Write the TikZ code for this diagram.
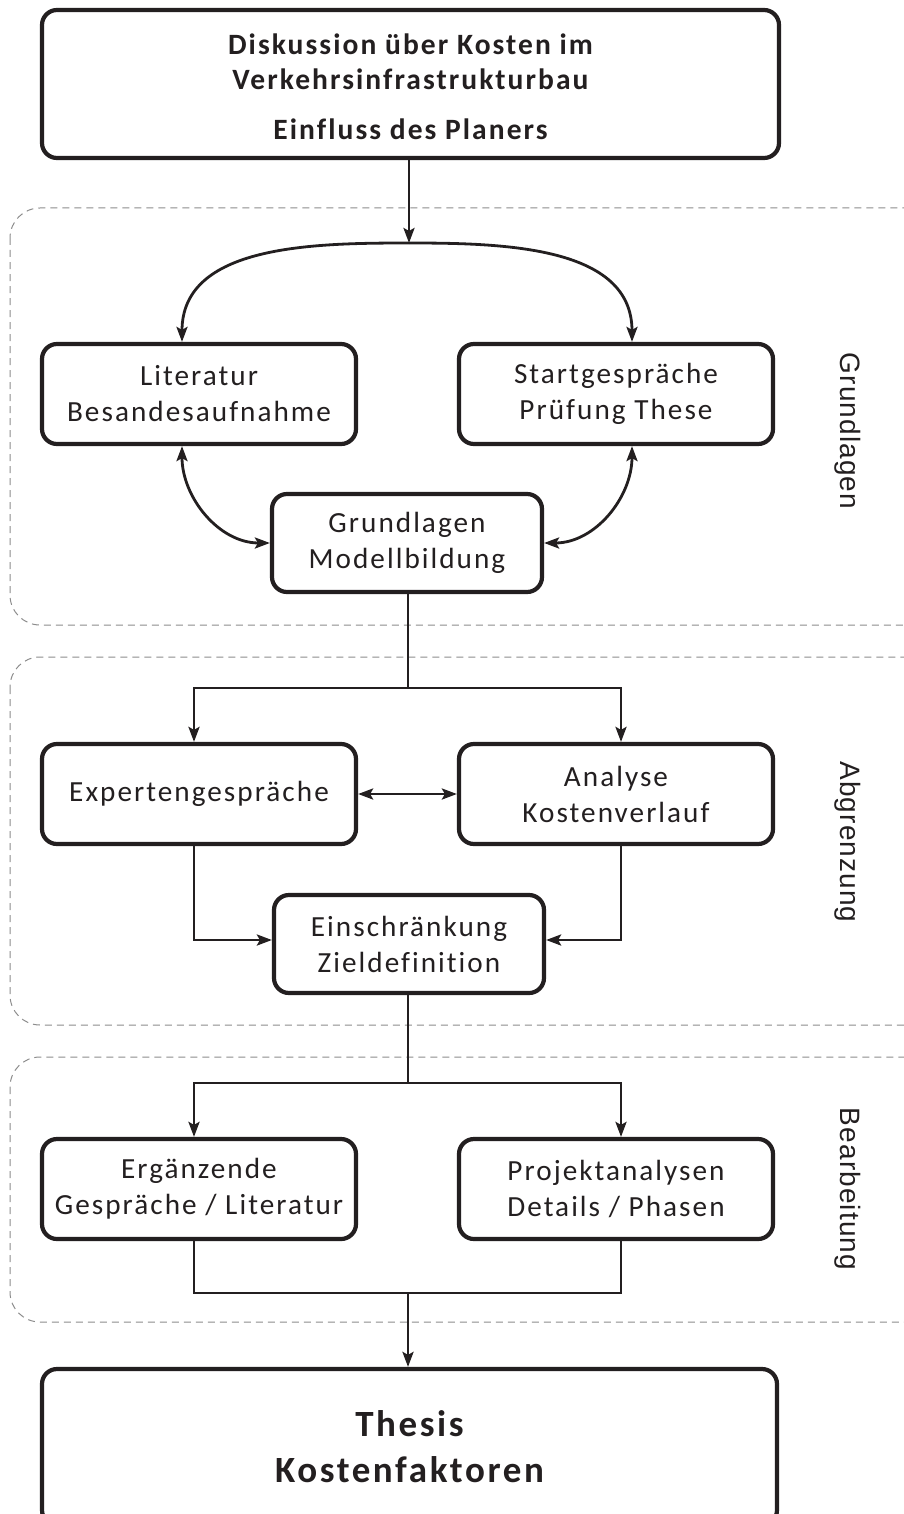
\documentclass[tikz,border=0pt]{standalone}
\usepackage{fontspec}
\setmainfont{Carlito}[LetterSpace=7,Ligatures=NoCommon]
\newfontfamily\phasefont{Liberation Sans}[LetterSpace=4]
\usepackage{tikz}
\usetikzlibrary{arrows.meta,calc}
\definecolor{ink}{HTML}{231F20}
\definecolor{grp}{HTML}{8C8C8C}

\begin{document}
\begin{tikzpicture}[x=1pt,y=-1pt,
    box/.style={draw=ink,line width=4.2pt,rounded corners=15pt,fill=white,align=center,
        inner sep=0pt,text=ink,font=\fontsize{29.2}{36}\selectfont},
    wide/.style={box,minimum width=314pt,minimum height=100pt},
    mid/.style={box,minimum width=270pt,minimum height=98pt},
    link/.style={draw=ink,line width=2.8pt},
    arr/.style={link,-{Stealth[length=15pt,width=11pt,inset=3pt]}},
    dbl/.style={link,{Stealth[length=15pt,width=11pt,inset=3pt]}-{Stealth[length=15pt,width=11pt,inset=3pt]}},
    group/.style={draw=grp,line width=1pt,dash pattern=on 7pt off 5pt,rounded corners=30pt},
    phase/.style={text=ink,rotate=-90,font=\phasefont\fontsize{28}{28}\selectfont}]
        \useasboundingbox (0,0) rectangle (904,1514);
        \clip (0,0) rectangle (904,1514);
        % phases
        \draw[group] (10,208) rectangle (935,625);
        \draw[group] (10,657) rectangle (935,1025);
        \draw[group] (10,1057) rectangle (935,1322);
        \node[phase] (p1) at (848,431) {Grundlagen};
        \node[phase] (p2) at (848,842) {Abgrenzung};
        \node[phase] (p3) at (848,1189) {Bearbeitung};
        % boxes
        \node[box,minimum width=737pt,minimum height=148pt] (top) at (410.5,84) {};
        \node[align=center,text=ink,font=\bfseries\fontsize{29.5}{35}\selectfont] (toptext) at (410.5,87)
            {Diskussion über Kosten im\\Verkehrsinfrastrukturbau\\[15pt]Einfluss des Planers};
        \node[wide] (lit) at (199,394) {Literatur\\Besandesaufnahme};
        \node[wide] (start) at (616,394) {Startgespräche\\Prüfung These};
        \node[mid] (model) at (407,543) {Grundlagen\\Modellbildung};
        \node[wide] (expert) at (199,794) {Expertengespräche};
        \node[wide] (kosten) at (616,794) {Analyse\\Kostenverlauf};
        \node[mid] (ziel) at (409,944) {Einschränkung\\Zieldefinition};
        \node[wide] (ergaenz) at (199,1189) {Ergänzende\\Gespräche / Literatur};
        \node[wide] (projekt) at (616,1189) {Projektanalysen\\Details / Phasen};
        \node[box,minimum width=735pt,minimum height=156pt,font=\bfseries\fontsize{37}{46}\selectfont] (thesis) at (409.5,1447)
            {Thesis\\Kostenfaktoren};
        % junctions
        \coordinate (s0) at (409,243);
        \coordinate (s1) at (408,688);
        \coordinate (s2) at (408,1083);
        \coordinate (s3) at (408,1293);
        % connectors
        \draw[arr] (top.south -| s0) -- (s0);
        \draw[arr] (s0) to[out=180,in=90] ([xshift=-17pt]lit.north);
        \draw[arr] (s0) to[out=0,in=90] ([xshift=16pt]start.north);
        \draw[dbl] ([xshift=-17pt]lit.south) to[out=-90,in=180] (model.west);
        \draw[dbl] ([xshift=16pt]start.south) to[out=-90,in=0] (model.east);
        \draw[link] (model.south -| s1) -- (s1);
        \draw[arr] (s1) -| ([xshift=-5pt]expert.north);
        \draw[arr] (s1) -| ([xshift=5pt]kosten.north);
        \draw[dbl] (expert) -- (kosten);
        \draw[arr] ([xshift=-5pt]expert.south) |- ([yshift=4pt]ziel.west);
        \draw[arr] ([xshift=5pt]kosten.south) |- ([yshift=4pt]ziel.east);
        \draw[link] (ziel.south -| s2) -- (s2);
        \draw[arr] (s2) -| ([xshift=-5pt]ergaenz.north);
        \draw[arr] (s2) -| ([xshift=5pt]projekt.north);
        \draw[link] ([xshift=-5pt]ergaenz.south) |- (s3) -| ([xshift=5pt]projekt.south);
        \draw[arr] (s3) -- (thesis.north -| s3);
    \end{tikzpicture}
\end{document}
